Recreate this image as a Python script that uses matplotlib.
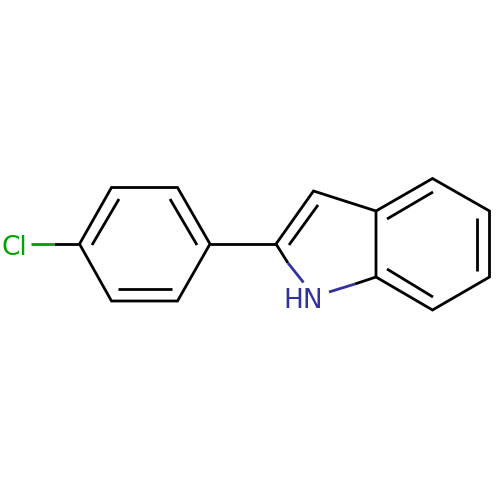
import matplotlib
matplotlib.use('Agg')
import matplotlib.pyplot as plt

# atom positions (pixels, y down)
ring_x = [79.5, 111.5, 177.5, 210, 177.5, 111.5, 79.5]
ring_y = [244, 187.5, 187.5, 244, 301, 301, 244]
link_x = [210, 276]
link_y = [244, 244]
five_x = [288, 276, 313.5, 376, 376, 355]
five_y = [263, 244, 191, 211, 277, 284]
six_x = [376, 432.5, 489.5, 489.5, 432.5, 376]
six_y = [211, 178.5, 211, 277, 310, 277]

# inner lines of the double bonds
inner_x = [[92, 119], [170, 197], [118, 172], [289, 318], [387, 433], [477, 477], [387, 433]]
inner_y = [[245, 199], [199, 245], [289, 289], [245, 205], [219, 192], [218, 271], [269, 297]]

# bond halves in the atom colours
cl_black_x = [54, 79.5]
cl_black_y = [244, 244]
cl_green_x = [31, 54]
cl_green_y = [244, 244]
n_blue_x = [[288, 303.5], [355, 329]]
n_blue_y = [[263, 282.5], [284, 292]]

cl_label = 'Cl'
nh_label = 'HN'
blue = '#333399'
green = '#00a000'

fig = plt.figure(figsize=(5, 5), dpi=100)
ax = fig.add_axes([0, 0, 1, 1])
ax.set_xlim(0, 500)
ax.set_ylim(500, 0)
ax.axis('off')

for xs, ys in [(ring_x, ring_y), (link_x, link_y), (five_x, five_y), (six_x, six_y), (cl_black_x, cl_black_y)]:
    ax.plot(xs, ys, color='black', lw=2, solid_capstyle='butt', solid_joinstyle='miter')
for xs, ys in zip(inner_x, inner_y):
    ax.plot(xs, ys, color='black', lw=2, solid_capstyle='butt')
ax.plot(cl_green_x, cl_green_y, color=green, lw=2, solid_capstyle='butt')
for xs, ys in zip(n_blue_x, n_blue_y):
    ax.plot(xs, ys, color=blue, lw=2, solid_capstyle='butt')

ax.text(14.5, 255, cl_label, color=green, fontsize=19, ha='center', va='baseline')
ax.text(303, 308, nh_label, color=blue, fontsize=19, ha='center', va='baseline')

fig.savefig('out.png', dpi=100)
